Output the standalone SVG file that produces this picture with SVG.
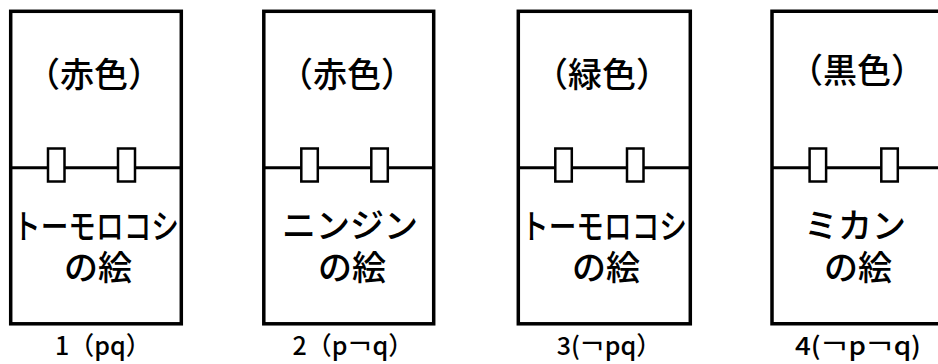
<svg xmlns="http://www.w3.org/2000/svg" width="938" height="364" viewBox="0 0 938 364">
<style>
.frame{fill:#fff;stroke:#000;stroke-width:3.5}
.mid{stroke:#000;stroke-width:3;fill:none}
.clip{fill:#fff;stroke:#000;stroke-width:2.5}
.t{font-family:"Noto Sans CJK JP","Noto Sans",sans-serif;font-weight:500;fill:#000;text-anchor:middle}
.big{font-size:34px}
.lab{font-size:25px}
</style>
<rect width="938" height="364" fill="#fff"/>
<g id="card1">
<rect class="frame" x="10.7" y="11.3" width="170.6" height="312.5"/>
<text class="t big" x="94" y="87">（赤色）</text>
<text class="t big"><tspan x="96" y="239" textLength="166" lengthAdjust="spacingAndGlyphs">トーモロコシ</tspan><tspan x="98" y="280">の絵</tspan></text>
<text class="t lab" x="103" y="355">1（pq）</text>
</g>
<g id="card2">
<rect class="frame" x="263.8" y="11.3" width="169.9" height="312.5"/>
<text class="t big" x="347" y="87">（赤色）</text>
<text class="t big"><tspan x="350" y="238">ニンジン</tspan><tspan x="352" y="280">の絵</tspan></text>
<text class="t lab" x="353" y="355">2（p￢q）</text>
</g>
<g id="card3">
<rect class="frame" x="518.3" y="11.3" width="172" height="312.5"/>
<text class="t big" x="602" y="87">（緑色）</text>
<text class="t big"><tspan x="604" y="239" textLength="166" lengthAdjust="spacingAndGlyphs">トーモロコシ</tspan><tspan x="606" y="280">の絵</tspan></text>
<text class="t lab" x="609" y="355">3(￢pq）</text>
</g>
<g id="card4">
<path class="frame" d="M945,11.3 H772 V323.8 H945"/>
<text class="t big" x="857" y="83">（黒色）</text>
<text class="t big"><tspan x="855" y="238">ミカン</tspan><tspan x="858" y="280">の絵</tspan></text>
<text class="t lab" x="858" y="355" textLength="126" lengthAdjust="spacingAndGlyphs">4(￢p￢q)</text>
</g>
<g id="connectors">
<line class="mid" x1="10.7" y1="167.7" x2="181.3" y2="167.7"/>
<line class="mid" x1="263.8" y1="167.7" x2="433.7" y2="167.7"/>
<line class="mid" x1="518.3" y1="167.7" x2="690.3" y2="167.7"/>
<line class="mid" x1="772" y1="167.7" x2="938" y2="167.7"/>
<rect class="clip" x="48" y="148.5" width="16.5" height="33"/>
<rect class="clip" x="118" y="148.5" width="17" height="33"/>
<rect class="clip" x="301.3" y="148.5" width="16.5" height="33"/>
<rect class="clip" x="371.3" y="148.5" width="16.5" height="33"/>
<rect class="clip" x="555.3" y="148.5" width="16.5" height="33"/>
<rect class="clip" x="627" y="148.5" width="16.5" height="33"/>
<rect class="clip" x="809.6" y="148.5" width="16.5" height="33"/>
<rect class="clip" x="881.3" y="148.5" width="16.5" height="33"/>
</g>
</svg>
